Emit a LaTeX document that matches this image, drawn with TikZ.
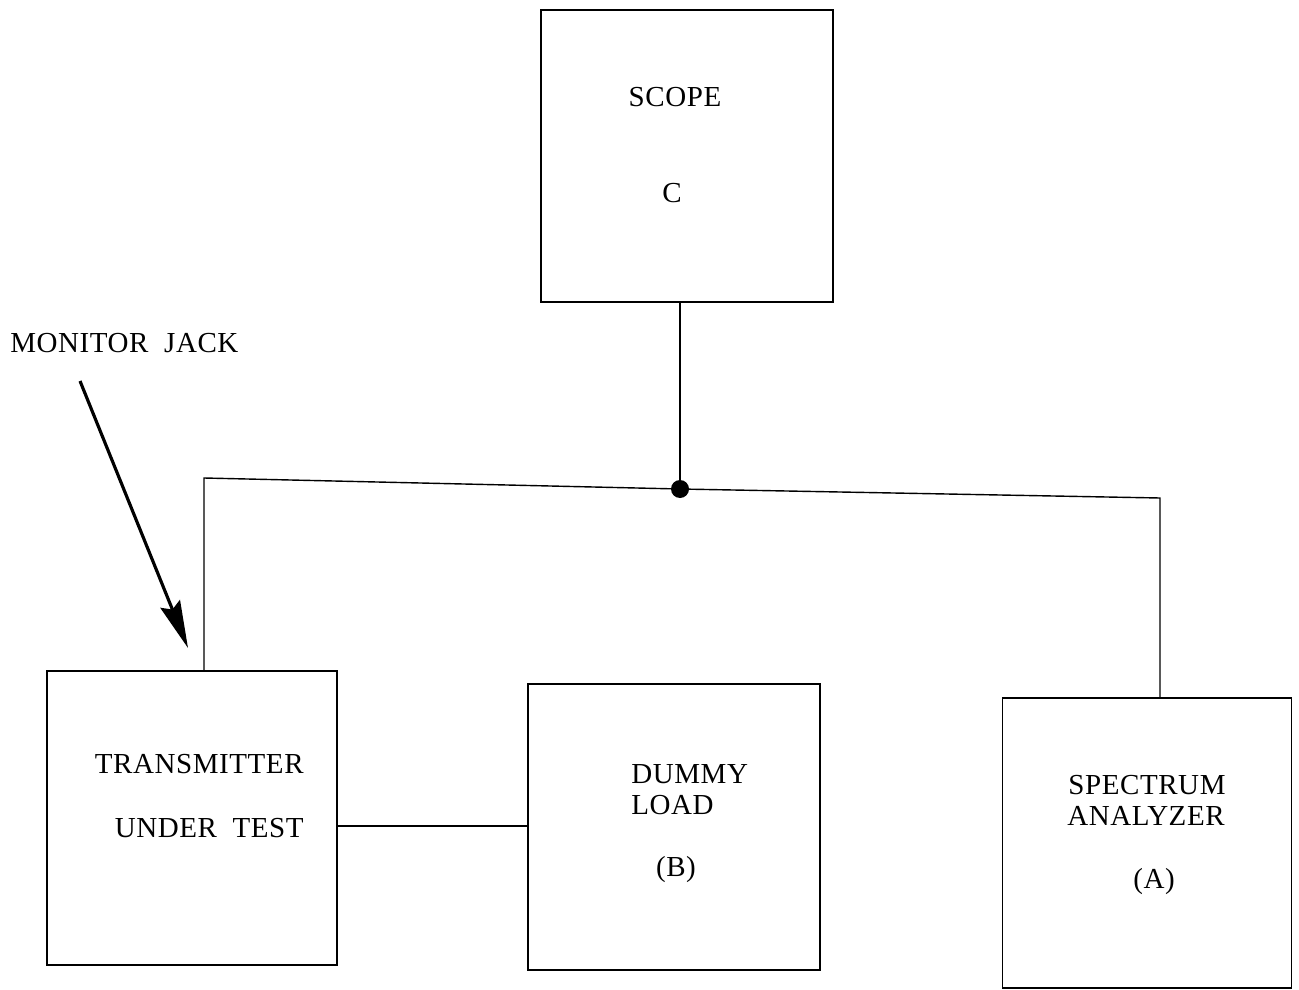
\documentclass[tikz,border=0pt]{standalone}
\usepackage{fontspec}
\setmainfont{Liberation Serif}[LetterSpace=2]
\usetikzlibrary{arrows.meta}
\begin{document}
\begin{tikzpicture}[x=0.02cm,y=-0.02cm,
  box/.style={draw=black,line width=0.9pt,rectangle,inner sep=0pt},
  wire/.style={draw=black,line width=0.8pt},
  lbl/.style={font=\fontsize{16.5}{19}\selectfont,inner sep=0pt},
  pointer/.style={draw=black,line width=1.8pt,-{Stealth[length=0.95cm,width=0.42cm,inset=0.12cm]}}]
\useasboundingbox (0,0) rectangle (1299,990);
% boxes
\node[box,minimum width=5.84cm,minimum height=5.84cm] (scope) at (687,156) {};
\node[box,minimum width=5.8cm,minimum height=5.88cm] (tx) at (192,818) {};
\node[box,minimum width=5.84cm,minimum height=5.72cm] (dummy) at (674,827) {};
\node[box,minimum width=5.78cm,minimum height=5.8cm] (spec) at (1147,843) {};
% texts
\node[lbl] (t1) at (675,97) {SCOPE};
\node[lbl] (t2) at (672,193) {C};
\node[lbl,anchor=east] (t3) at (304,764) {TRANSMITTER};
\node[lbl,anchor=east] (t4) at (304,828) {UNDER\ \ TEST};
\node[lbl,anchor=west] (t5) at (631,774) {DUMMY};
\node[lbl,anchor=west] (t6) at (631,805) {LOAD};
\node[lbl] (t7) at (676,870) {(B)};
\node[lbl] (t8) at (1147,785) {SPECTRUM};
\node[lbl] (t9) at (1146,816) {ANALYZER};
\node[lbl] (t10) at (1154,882) {(A)};
\node[lbl,anchor=west] (mj) at (10,343) {MONITOR\ \ JACK};
% junction and bus
\coordinate (jn) at (680,489);
\coordinate (bl) at (204,478);
\coordinate (br) at (1160,498);
\draw[wire] (scope.south -| jn) -- (jn);
\draw[wire] (tx.north -| bl) -- (bl) -- (jn) -- (br) -- (spec.north -| br);
\fill (jn) circle (9);
\draw[wire] (tx.east |- 0,826) -- (dummy.west |- 0,826);
% monitor jack arrow
\coordinate (as) at (80,381);
\coordinate (ae) at (188,648);
\draw[pointer] (as) -- (ae);
\end{tikzpicture}
\end{document}
